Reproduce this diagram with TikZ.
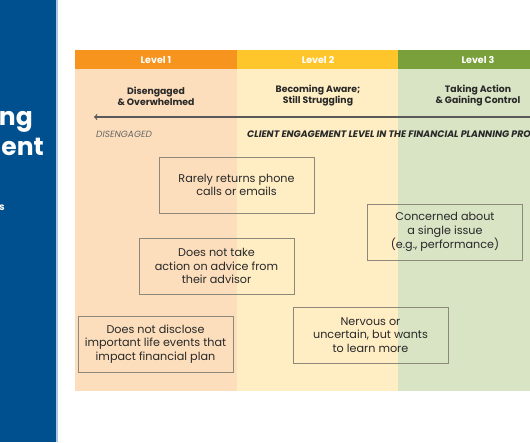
\documentclass[tikz,border=0pt]{standalone}
\usepackage{fontspec}
\setmainfont{Poppins}
\usepackage{tikz}
\definecolor{panelblue}{RGB}{0,80,143}
\definecolor{panelline}{RGB}{170,200,230}
\definecolor{orangehead}{RGB}{247,148,30}
\definecolor{yellowhead}{RGB}{255,198,44}
\definecolor{greenhead}{RGB}{122,160,60}
\definecolor{peach}{RGB}{252,222,188}
\definecolor{paleyellow}{RGB}{255,238,196}
\definecolor{palegreen}{RGB}{216,228,196}
\definecolor{boxgray}{RGB}{140,136,122}
\definecolor{inkgray}{RGB}{40,40,40}

\begin{document}
\begin{tikzpicture}[x=1pt,y=-1pt,
    levelhead/.style={text=white,font=\bfseries\fontsize{9.5}{11}\selectfont},
    leveltitle/.style={align=center,text=inkgray,font=\bfseries\fontsize{9.3}{11}\selectfont},
    behaviour/.style={draw=boxgray,line width=0.8pt,minimum width=155pt,minimum height=56pt,
      inner sep=0pt,align=center,text=inkgray,font=\fontsize{11.2}{13.3}\selectfont},
    paneltext/.style={text=white,font=\bfseries\fontsize{25}{30}\selectfont,anchor=base east,inner sep=0pt}]
              \useasboundingbox (0,0) rectangle (530,442);
              \fill[white](0,0)rectangle(530,442);
              \fill[panelblue](0,0)rectangle(56,442);
              \fill[panelline](56,0)rectangle(57.5,442);
              \begin{scope}
                \clip(0,0)rectangle(56,442);
                \node[paneltext](p1)at(33,125){ng};
                \node[paneltext](p2)at(44,155){ment};
                \node[paneltext,font=\bfseries\fontsize{10}{12}\selectfont](p3)at(5,210){s};
              \end{scope}
              \fill[peach](75,69)rectangle(237,391);
              \fill[paleyellow](237,69)rectangle(398,391);
              \fill[palegreen](398,69)rectangle(530,391);
              \fill[orangehead](75,50)rectangle(237,69);
              \fill[yellowhead](237,50)rectangle(398,69);
              \fill[greenhead](398,50)rectangle(530,69);
              \node[levelhead](h1)at(156,60){Level 1};
              \node[levelhead](h2)at(318,60){Level 2};
              \node[levelhead](h3)at(478,60){Level 3};
              \node[leveltitle](t1)at(156,96){Disengaged\\\& Overwhelmed};
              \node[leveltitle](t2)at(318,96){Becoming Aware;\\Still Struggling};
              \node[leveltitle](t3)at(478,96){Taking Action\\\& Gaining Control};
              \coordinate(l)at(94,117);
              \coordinate(r)at(531,117);
              \draw[<-,line width=1.2pt,color=black!65](l)--(r);
              \node[anchor=west,inner sep=0pt,text=black!60,font=\itshape\fontsize{9}{10}\selectfont](d)at(96,134){DISENGAGED};
              \node[anchor=west,inner sep=0pt,text=inkgray,font=\bfseries\itshape\fontsize{9.4}{10}\selectfont](c)at(247,134){CLIENT ENGAGEMENT LEVEL IN THE FINANCIAL PLANNING PROCESS};
              \node[behaviour](b1)at(236.5,185){Rarely returns phone\\calls or emails};
              \node[behaviour](b2)at(445,232){Concerned about\\a single issue\\(e.g., performance)};
              \node[behaviour](b3)at(216.5,266){Does not take\\action on advice from\\their advisor};
              \node[behaviour](b4)at(155.5,344){Does not disclose\\important life events that\\impact financial plan};
              \node[behaviour](b5)at(370.5,335){Nervous or\\uncertain, but wants\\to learn more};
            \end{tikzpicture}
\end{document}
